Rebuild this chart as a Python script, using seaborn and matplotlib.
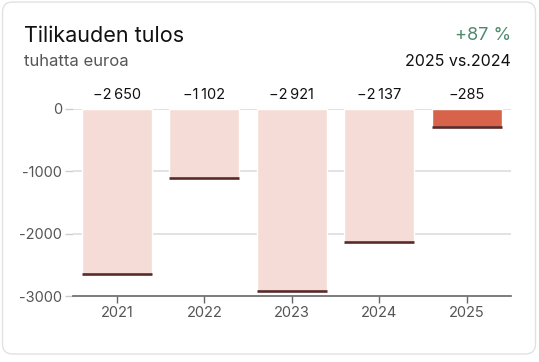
import matplotlib
matplotlib.use("Agg")
import matplotlib.pyplot as plt
import seaborn as sns
import pandas as pd
from matplotlib.patches import FancyBboxPatch

years = ["2021", "2022", "2023", "2024", "2025"]
values = [-2650, -1102, -2921, -2137, -285]
value_labels = ["\u22122\u2009650", "\u22121\u2009102", "\u22122\u2009921", "\u22122\u2009137", "\u2212285"]
yticks = [0, -1000, -2000, -3000]
ytick_labels = ["0", "-1000", "-2000", "-3000"]
bar_colors = ["#f6dcd7", "#f6dcd7", "#f6dcd7", "#f6dcd7", "#d7634a"]
title = "Tilikauden tulos"
subtitle = "tuhatta euroa"
change = "+87 %"
compare = "2025 vs.2024"

sns.set_theme(style="white")
plt.rcParams["font.family"] = ["Inter", "DejaVu Sans"]

W, H = 539, 362
fig = plt.figure(figsize=(W / 100, H / 100), dpi=100)
fig.patch.set_facecolor("white")

# card border
card = FancyBboxPatch((2.5 / 100, (H - 354) / 100), (533 / 100), (352 / 100),
                      boxstyle="round,pad=0,rounding_size=0.1",
                      transform=fig.dpi_scale_trans, facecolor="none",
                      edgecolor="#e2e2e2", linewidth=1.0, zorder=-5)
fig.add_artist(card)

ax_left, ax_right = 73, 510.5
ax_top, ax_bottom = 109, 296
ax = fig.add_axes([ax_left / W, 1 - ax_bottom / H, (ax_right - ax_left) / W, (ax_bottom - ax_top) / H])
ax.set_facecolor("none")

df = pd.DataFrame({"year": years, "value": values})
sns.barplot(data=df, x="year", y="value", hue="year", palette=bar_colors,
            legend=False, width=0.8, ax=ax, zorder=2, saturation=1)

for p, v, lab in zip(ax.patches, values, value_labels):
    x0 = p.get_x()
    w = p.get_width()
    ax.hlines(v, x0, x0 + w, color="#5a2a2a", linewidth=1.9, zorder=3)
    ax.annotate(lab, (x0 + w / 2, 0), xytext=(0, 5), textcoords="offset points",
                ha="center", va="bottom", fontsize=10.5, color="#111111",
                annotation_clip=False)

ax.set_ylim(-3000, 0)
ax.set_xlim(-0.5, 4.5)
ax.set_yticks(yticks)
ax.set_yticklabels(ytick_labels)
ax.set_xlabel("")
ax.set_ylabel("")
for y in yticks[:-1]:
    ax.axhline(y, color="#dddddd", linewidth=1.2, zorder=1)

for s in ["top", "right", "left"]:
    ax.spines[s].set_visible(False)
ax.spines["bottom"].set_color("#666666")
ax.spines["bottom"].set_linewidth(1.2)
ax.tick_params(axis="y", length=6, width=1, color="#cccccc", labelsize=10.5,
               labelcolor="#555555", pad=2, left=True)
ax.tick_params(axis="x", length=5, width=1, color="#666666", labelsize=10.5,
               labelcolor="#555555", pad=2, bottom=True)

fig.text(24 / W, 1 - 36 / H, title, fontsize=15.5, color="#111111", ha="left", va="center")
fig.text(24 / W, 1 - 62 / H, subtitle, fontsize=12, color="#555555", ha="left", va="center")
fig.text(511 / W, 1 - 36 / H, change, fontsize=13, color="#4e8a6c", ha="right", va="center")
fig.text(511 / W, 1 - 62 / H, compare, fontsize=11.5, color="#111111", ha="right", va="center")

fig.savefig("out.png", dpi=100, facecolor="white")
